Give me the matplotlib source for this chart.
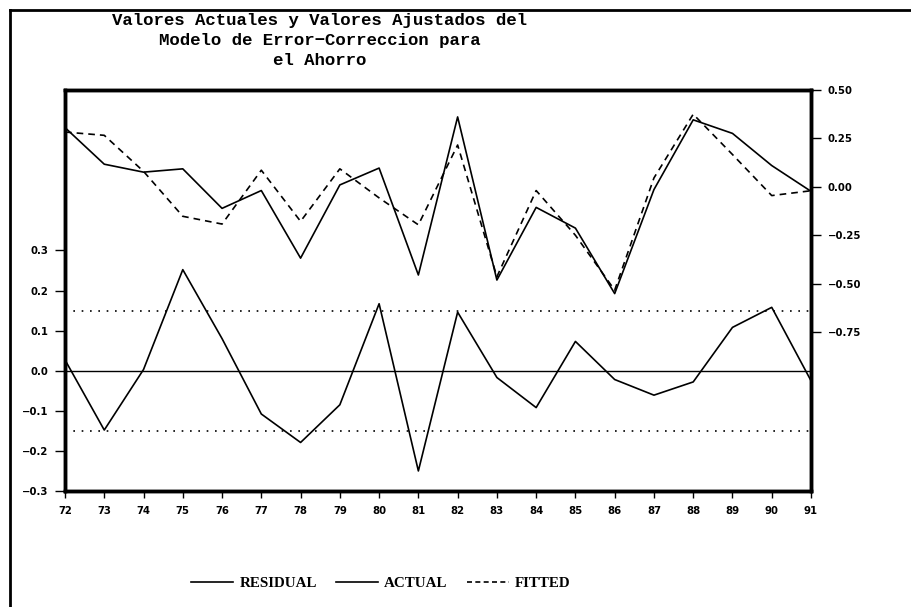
import matplotlib.pyplot as plt
from matplotlib.lines import Line2D

# datos
years = list(range(72, 92))
residual = [0.027, -0.148, 0.003, 0.252, 0.080, -0.108, -0.179, -0.085, 0.167, -0.250,
            0.146, -0.017, -0.092, 0.073, -0.022, -0.061, -0.028, 0.108, 0.158, -0.025]
actual = [0.306, 0.117, 0.076, 0.093, -0.111, -0.019, -0.368, 0.010, 0.097, -0.455,
          0.361, -0.481, -0.106, -0.213, -0.551, -0.014, 0.346, 0.276, 0.110, -0.023]
fitted = [0.283, 0.266, 0.080, -0.152, -0.192, 0.086, -0.178, 0.093, -0.057, -0.196,
          0.216, -0.464, -0.019, -0.250, -0.533, 0.046, 0.375, 0.167, -0.045, -0.020]
left_ticks = [-0.3, -0.2, -0.1, 0.0, 0.1, 0.2, 0.3]
right_ticks = [-0.75, -0.50, -0.25, 0.00, 0.25, 0.50]
title_lines = ["Valores Actuales y Valores Ajustados del",
               "Modelo de Error\u2212Correccion para",
               "el Ahorro"]

tick_font = dict(family='DejaVu Sans', weight='bold', size=7.3)

fig = plt.figure(figsize=(9.11, 6.07), dpi=100)

# marco exterior
fig.add_artist(Line2D([10/911, 10/911], [0, 1 - 10/607], color='black', lw=2, transform=fig.transFigure))
fig.add_artist(Line2D([10/911, 1], [1 - 10/607, 1 - 10/607], color='black', lw=2, transform=fig.transFigure))

ax = fig.add_axes([65/911, 1 - 491/607, (811 - 65)/911, (491 - 90)/607])
ax.plot(years, residual, color='black', lw=1.2)
ax.axhline(0, color='black', lw=1.0)
ax.axhline(0.15, color='black', lw=1.2, ls=(0, (1, 4)))
ax.axhline(-0.15, color='black', lw=1.2, ls=(0, (1, 4)))
ax.set_xlim(72, 91)
ax.set_ylim(-0.3, 0.7)
ax.set_xticks(years)
ax.set_xticklabels([str(y) for y in years], fontdict=tick_font)
ax.set_yticks(left_ticks)
ax.set_yticklabels([f"{v:.1f}".replace('-', '\u2212') for v in left_ticks], fontdict=tick_font)

ax2 = ax.twinx()
ax2.plot(years, actual, color='black', lw=1.2)
ax2.plot(years, fitted, color='black', lw=1.2, ls=(0, (4, 3)))
ax2.set_ylim(-1.57, 0.5)
ax2.set_yticks(right_ticks)
ax2.set_yticklabels([f"{v:.2f}".replace('-', '\u2212') for v in right_ticks], fontdict=tick_font)

for a in (ax, ax2):
    for s in a.spines.values():
        s.set_linewidth(2.5)
    a.tick_params(axis='y', direction='out', length=7, width=1, pad=5)
    a.tick_params(axis='x', direction='out', length=5, width=1, pad=6)

# titulo, una linea cada 20 px
for i, line in enumerate(title_lines):
    fig.text(320/911, 1 - (25 + 20*i)/607, line, ha='center', va='baseline',
             family='Liberation Mono', weight='bold', size=12.5)

handles = [Line2D([], [], color='black', lw=1.2),
           Line2D([], [], color='black', lw=1.2),
           Line2D([], [], color='black', lw=1.2, ls=(0, (3, 2)))]
fig.legend(handles, ['RESIDUAL', 'ACTUAL', 'FITTED'], loc='center', ncol=3,
           bbox_to_anchor=(381/911, 1 - 583/607), frameon=False,
           prop=dict(family='Liberation Serif', weight='bold', size=10.8),
           handlelength=2.8, handletextpad=0.4, columnspacing=1.3)

fig.savefig('out.png', dpi=100)
